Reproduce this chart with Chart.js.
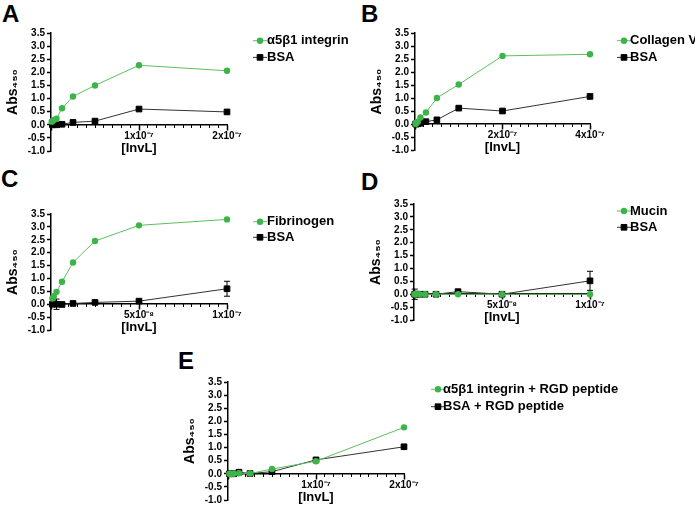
<!DOCTYPE html>
<html><head><meta charset="utf-8">
<script src="https://cdn.jsdelivr.net/npm/chart.js@4.4.1/dist/chart.umd.min.js"></script>
<style>
html,body{margin:0;padding:0;background:#fff;overflow:hidden;width:695px;height:505px;position:relative;}
canvas{position:absolute;}
.lbl{position:absolute;font:bold 24px "Liberation Sans",Arial,sans-serif;color:#000;line-height:24px;}
</style></head><body>
<div class="lbl" style="left:2px;top:2px">A</div>
<div class="lbl" style="left:361px;top:2px">B</div>
<div class="lbl" style="left:1px;top:167px">C</div>
<div class="lbl" style="left:361px;top:170px">D</div>
<div class="lbl" style="left:178px;top:349px">E</div>
<canvas id="cA" width="355" height="160" style="left:0px;top:23px"></canvas>
<canvas id="cB" width="331" height="159" style="left:364px;top:23px"></canvas>
<canvas id="cC" width="355" height="158" style="left:0px;top:204px"></canvas>
<canvas id="cD" width="332" height="158" style="left:363px;top:194px"></canvas>
<canvas id="cE" width="518" height="160" style="left:177px;top:372px"></canvas>
<script>
// ---------- data ----------
const yTicks = [-1.0, -0.5, 0.0, 0.5, 1.0, 1.5, 2.0, 2.5, 3.0, 3.5];
const yTickLabels = ['-1.0', '-0.5', '0.0', '0.5', '1.0', '1.5', '2.0', '2.5', '3.0', '3.5'];

// Panel A
const xA = [7.8e-10, 1.5625e-9, 3.125e-9, 6.25e-9, 1.25e-8, 2.5e-8, 5e-8, 1e-7, 2e-7];
const integrinA = [0.12, 0.14, 0.18, 0.23, 0.63, 1.08, 1.5, 2.27, 2.06];
const bsaA = [0.0, 0.0, 0.0, 0.0, 0.02, 0.09, 0.14, 0.6, 0.49];
const xTicksA = [0, 1e-7, 2e-7];
const xTickLabelsA = ['', '1x10⁻⁷', '2x10⁻⁷'];

// Panel B
const xB = [1.5625e-9, 3.125e-9, 6.25e-9, 1.25e-8, 2.5e-8, 5e-8, 1e-7, 2e-7, 4e-7];
const collagenB = [0.0, 0.05, 0.09, 0.25, 0.44, 1.0, 1.52, 2.62, 2.68];
const bsaB = [0.0, 0.0, 0.01, 0.03, 0.09, 0.16, 0.61, 0.5, 1.06];
const xTicksB = [0, 2e-7, 4e-7];
const xTickLabelsB = ['', '2x10⁻⁷', '4x10⁻⁷'];

// Panel C
const xC = [7.8e-10, 1.5625e-9, 3.125e-9, 6.25e-9, 1.25e-8, 2.5e-8, 5e-8, 1e-7];
const fibrinogenC = [0.22, 0.31, 0.48, 0.87, 1.62, 2.45, 3.06, 3.29];
const bsaC = [0.0, 0.02, 0.0, -0.01, 0.03, 0.07, 0.12, 0.6];
const bsaCErr = [0, 0, 0.2, 0, 0.06, 0.03, 0.06, 0.29];
const xTicksC = [0, 5e-8, 1e-7];
const xTickLabelsC = ['', '5x10⁻⁸', '1x10⁻⁷'];

// Panel D
const xD = [3.9e-10, 7.8e-10, 1.5625e-9, 3.125e-9, 6.25e-9, 1.25e-8, 2.5e-8, 5e-8, 1e-7];
const mucinD = [0.0, 0.0, 0.0, 0.0, 0.0, 0.0, 0.0, 0.0, 0.0];
const bsaD = [0.0, 0.0, 0.0, 0.0, 0.0, 0.0, 0.1, 0.0, 0.52];
const bsaDErr = [0.2, 0, 0, 0, 0, 0, 0.02, 0.03, 0.37];
const xTicksD = [0, 5e-8, 1e-7];
const xTickLabelsD = ['', '5x10⁻⁸', '1x10⁻⁷'];

// Panel E
const xE = [1.5625e-9, 3.125e-9, 6.25e-9, 1.25e-8, 2.5e-8, 5e-8, 1e-7, 2e-7];
const integrinRgdE = [0.0, 0.0, 0.0, 0.02, 0.01, 0.18, 0.48, 1.77];
const bsaRgdE = [0.0, 0.0, 0.0, 0.06, 0.01, 0.08, 0.53, 1.03];
const xTicksE = [0, 1e-7, 2e-7];
const xTickLabelsE = ['', '1x10⁻⁷', '2x10⁻⁷'];

// ---------- styling ----------
const FONT = '"Liberation Sans", Arial, Helvetica, sans-serif';
Chart.defaults.font.family = FONT;
Chart.defaults.font.weight = 'bold';
Chart.defaults.color = '#000';
const GREEN = '#3db449';
const GREEN_LINE = '#5cbf5f';
const BLACK = '#000';
const BLACK_LINE = '#333';

const errorBars = {
  id: 'errorBars',
  beforeDatasetsDraw(chart) {
    const ctx = chart.ctx, xs = chart.scales.x, ys = chart.scales.y;
    chart.data.datasets.forEach(ds => {
      if (!ds.errors) return;
      ds.data.forEach((p, i) => {
        const e = ds.errors[i];
        if (!e) return;
        const px = xs.getPixelForValue(p.x);
        const y1 = ys.getPixelForValue(p.y + e), y2 = ys.getPixelForValue(p.y - e);
        ctx.save();
        ctx.strokeStyle = '#000'; ctx.lineWidth = 1;
        ctx.beginPath();
        ctx.moveTo(px, y1); ctx.lineTo(px, y2);
        ctx.moveTo(px - 3, y1); ctx.lineTo(px + 3, y1);
        ctx.moveTo(px - 3, y2); ctx.lineTo(px + 3, y2);
        ctx.stroke();
        ctx.restore();
      });
    });
  }
};

const lineLegend = {
  id: 'lineLegend',
  afterDraw(chart, args, opts) {
    const ctx = chart.ctx;
    chart.data.datasets.forEach((ds, i) => {
      const y = opts.y + i * opts.dy;
      ctx.save();
      ctx.strokeStyle = ds.borderColor; ctx.lineWidth = 1;
      ctx.beginPath(); ctx.moveTo(opts.x, y); ctx.lineTo(opts.x + opts.len, y); ctx.stroke();
      ctx.fillStyle = ds.pointBackgroundColor; ctx.strokeStyle = ds.pointBorderColor;
      Chart.helpers.drawPoint(ctx, {pointStyle: ds.pointStyle, radius: ds.pointRadius, borderWidth: ds.pointBorderWidth, rotation: 0}, opts.x + opts.len / 2, y);
      ctx.fillStyle = '#000';
      ctx.font = 'bold 13px ' + FONT;
      ctx.textBaseline = 'middle'; ctx.textAlign = 'left';
      ctx.fillText(ds.label, opts.textX, y);
      ctx.restore();
    });
  }
};

function pts(xs, ys) { return xs.map((x, i) => ({x: x, y: ys[i]})); }

function panel(id, cfg) {
  const ds = [
    {label: cfg.l1, data: pts(cfg.x1, cfg.y1), borderColor: GREEN_LINE, borderWidth: 1,
     pointStyle: 'circle', pointRadius: 3.2, pointBackgroundColor: GREEN, pointBorderColor: GREEN, pointBorderWidth: 0, clip: false},
    {label: cfg.l2, data: pts(cfg.x2, cfg.y2), borderColor: BLACK_LINE, borderWidth: 1,
     pointStyle: 'rect', pointRadius: 4, pointBackgroundColor: BLACK, pointBorderColor: BLACK, pointBorderWidth: 1, clip: false,
     errors: cfg.err || null}
  ];
  new Chart(document.getElementById(id), {
    type: 'line',
    data: {datasets: ds},
    plugins: [errorBars, lineLegend],
    options: {
      responsive: false, animation: false,
      layout: {padding: {left: 0, top: 10, right: cfg.padR, bottom: 32}},
      plugins: {legend: {display: false}, tooltip: {enabled: false},
        lineLegend: cfg.legend},
      scales: {
        x: {type: 'linear', position: {y: 0}, min: 0, max: cfg.xMax,
          afterBuildTicks(s) { s.ticks = cfg.xTicks.map(v => ({value: v})); },
          ticks: {autoSkip: false, maxRotation: 0, padding: 0, font: {size: 10, weight: 'bold'},
            callback: (v, i) => cfg.xLabels[i]},
          grid: {drawOnChartArea: false, drawTicks: true, tickLength: 5, tickWidth: 1.5, tickColor: '#000'},
          border: {display: true, color: '#000', width: 1.5},
          title: {display: true, text: '[InvL]', font: {size: 13, weight: 'bold'}, padding: {top: 0, bottom: 1}},
          afterFit(s) { s.height = 32; }
        },
        xm: {type: 'linear', position: {y: 0}, min: 0, max: cfg.xMax,
          ticks: {display: false, stepSize: cfg.minor},
          grid: {drawOnChartArea: false, drawTicks: true, tickLength: 3, tickWidth: 1, tickColor: '#000'},
          border: {display: false},
          afterFit(s) { s.height = 0; }
        },
        y: {type: 'linear', position: 'left', min: -1, max: 3.5,
          afterBuildTicks(s) { s.ticks = yTicks.map(v => ({value: v})); },
          ticks: {autoSkip: false, padding: 2, font: {size: 10, weight: 'bold'}, callback: (v, i) => yTickLabels[i]},
          grid: {drawOnChartArea: false, drawTicks: true, tickLength: 4, tickWidth: 1.5, tickColor: '#000'},
          border: {display: true, color: '#000', width: 1.5},
          title: {display: true, text: 'Abs₄₅₀', font: {size: 14, weight: 'bold'}, padding: {top: 5, bottom: 0}},
          afterFit(s) { s.width = 51; }
        }
      }
    }
  });
}

panel('cA', {x1: xA, y1: integrinA, l1: 'α5β1 integrin', x2: xA.slice(1), y2: bsaA.slice(1), l2: 'BSA',
  xMax: 2e-7, minor: 1e-8, xTicks: xTicksA, xLabels: xTickLabelsA, padR: 128,
  legend: {x: 253, len: 14, textX: 267, y: 17.7, dy: 16.7}});
panel('cB', {x1: xB, y1: collagenB, l1: 'Collagen V', x2: xB, y2: bsaB, l2: 'BSA',
  xMax: 4e-7, minor: 2e-8, xTicks: xTicksB, xLabels: xTickLabelsB, padR: 105,
  legend: {x: 253, len: 14, textX: 266, y: 17.7, dy: 16.7}});
panel('cC', {x1: xC, y1: fibrinogenC, l1: 'Fibrinogen', x2: xC, y2: bsaC, err: bsaCErr, l2: 'BSA',
  xMax: 1e-7, minor: 5e-9, xTicks: xTicksC, xLabels: xTickLabelsC, padR: 128,
  legend: {x: 253, len: 14, textX: 267, y: 17.7, dy: 15.6}});
panel('cD', {x1: xD, y1: mucinD, l1: 'Mucin', x2: xD, y2: bsaD, err: bsaDErr, l2: 'BSA',
  xMax: 1e-7, minor: 5e-9, xTicks: xTicksD, xLabels: xTickLabelsD, padR: 105,
  legend: {x: 254, len: 14, textX: 267, y: 17, dy: 16.3}});
panel('cE', {x1: xE, y1: integrinRgdE, l1: 'α5β1 integrin + RGD peptide', x2: xE, y2: bsaRgdE, l2: 'BSA + RGD peptide',
  xMax: 2e-7, minor: 1e-8, xTicks: xTicksE, xLabels: xTickLabelsE, padR: 291,
  legend: {x: 254, len: 14, textX: 266, y: 17.3, dy: 17.4}});
</script>
</body></html>
